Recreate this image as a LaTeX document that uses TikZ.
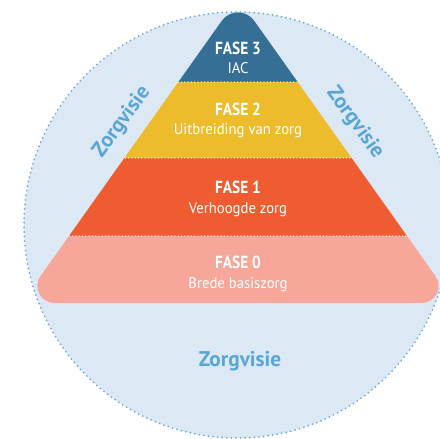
\documentclass[tikz,border=0pt]{standalone}
\usepackage{fontspec}
\setmainfont{PT Sans}
\newfontfamily\titlefam{PT Sans}[FakeStretch=0.88]
\newfontfamily\subfam{PT Sans}[FakeStretch=0.95]
\definecolor{circfill}{HTML}{DCE9F5}
\definecolor{dotblue}{HTML}{6CABDB}
\definecolor{visie}{HTML}{5AA5D6}
\definecolor{cfase3}{HTML}{356F95}
\definecolor{cfase2}{HTML}{ECBC2C}
\definecolor{cfase1}{HTML}{F05C32}
\definecolor{cfase0}{HTML}{F6A799}
\tikzset{
  sepline/.style={white, line width=1.4pt, line cap=round, dash pattern=on 0pt off 3.3pt},
  fasetitle/.style={anchor=base, text=white, font=\titlefam\bfseries\fontsize{17.5}{19}\selectfont, inner sep=0pt},
  fasesub/.style={anchor=base, text=white, font=\subfam\fontsize{15.5}{17}\selectfont, inner sep=0pt},
  visietext/.style={text=visie, font=\bfseries\fontsize{21.3}{23}\selectfont, inner sep=0pt},
}
\begin{document}
\begin{tikzpicture}[x=1pt,y=1pt]
\useasboundingbox (0,0) rectangle (440,439);
\clip (0,0) rectangle (440,439);
\node[circle, minimum size=426pt, inner sep=0pt, fill=circfill, draw=dotblue, line width=2pt, line cap=round, dash pattern=on 0pt off 4.6pt] (circ) at (237,214) {};
\begin{scope}
\clip (221.8,418.2) .. controls (229.7,429.4) and (246.3,429.4) .. (254.2,418.2)
  -- (435.5,162.9) .. controls (443.5,151.7) and (435.4,136) .. (421.6,136)
  -- (54.4,136) .. controls (40.6,136) and (32.5,151.7) .. (40.5,162.9) -- cycle;
\fill[cfase3] (0,357) rectangle (440,445);
\fill[cfase2] (0,281) rectangle (440,357);
\fill[cfase1] (0,203) rectangle (440,281);
\fill[cfase0] (0,120) rectangle (440,203);
\draw[sepline] (0,357) -- (440,357);
\draw[sepline] (0,281) -- (440,281);
\draw[sepline] (0,203) -- (440,203);
\end{scope}
\node[fasetitle] (f3) at (238,384) {FASE 3};
\node[fasesub] (f3s) at (238,365) {IAC};
\node[fasetitle] (f2) at (238,323) {FASE 2};
\node[fasesub] (f2s) at (238,304) {Uitbreiding van zorg};
\node[fasetitle] (f1) at (238,245) {FASE 1};
\node[fasesub] (f1s) at (238,225) {Verhoogde zorg};
\node[fasetitle] (f0) at (238,170) {FASE 0};
\node[fasesub] (f0s) at (238,150) {Brede basiszorg};
\node[visietext, anchor=base] (vb) at (240,72) {Zorgvisie};
\node[visietext, rotate=54] (vl) at (122,317) {Zorgvisie};
\node[visietext, rotate=-54] (vr) at (355,316) {Zorgvisie};
\end{tikzpicture}
\end{document}
